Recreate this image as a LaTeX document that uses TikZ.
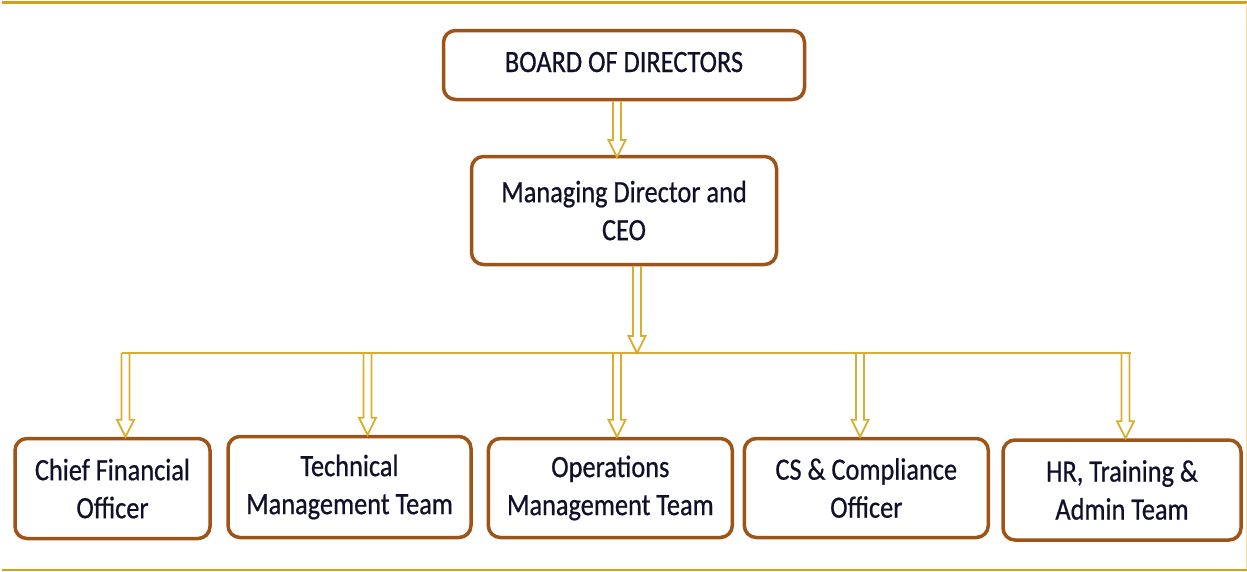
\documentclass[tikz,border=0pt]{standalone}
\usepackage{fontspec}
\setmainfont{Carlito}[FakeStretch=0.85,FakeBold=0.6]
\usetikzlibrary{calc}
\definecolor{boxbrown}{HTML}{9E5417}
\definecolor{arrowgold}{HTML}{D9AE2E}
\definecolor{rulegold}{HTML}{D4A017}
\definecolor{txt}{HTML}{10102A}
\tikzset{
  orgbox/.style={draw=boxbrown, line width=3.5pt, rounded corners=12pt, fill=white,
    align=center, text=txt, inner sep=0pt, font=\fontsize{31}{38}\selectfont},
  hollowarrow/.style={draw=arrowgold, line width=1.8pt, line join=miter,
    to path={let \p1=(\tikztostart), \p2=(\tikztotarget) in
      (\x1-4pt,\y1) -- (\x1-4pt,\y2+17pt) -- (\x1-8.5pt,\y2+17pt) -- (\x1,\y2)
      -- (\x1+8.5pt,\y2+17pt) -- (\x1+4pt,\y2+17pt) -- (\x1+4pt,\y1)}},
  busline/.style={draw=arrowgold, line width=2pt}
}
\begin{document}
\begin{tikzpicture}[x=1pt,y=-1pt]
\useasboundingbox (0,0) rectangle (1247,571);
% frame rules
\draw[rulegold, line width=3pt] (2,2) -- (1247,2);
\draw[rulegold, line width=2pt] (2,569.5) -- (1247,569.5);
\draw[rulegold!35, line width=1pt] (1246,3) -- (1246,569);

% boxes
\node[orgbox, minimum width=361pt, minimum height=69pt, text height=22pt, text depth=8pt] (board) at (624,65) {BOARD OF DIRECTORS};
\node[orgbox, minimum width=305pt, minimum height=108pt] (ceo) at (624,210.5) {Managing Director and\\CEO};
\node[orgbox, minimum width=195pt, minimum height=100pt] (cfo) at (112.5,488.5) {Chief Financial\\Officer};
\node[orgbox, minimum width=243pt, minimum height=101pt] (tech) at (349.5,487) {Technical\\Management Team};
\node[orgbox, minimum width=244pt, minimum height=99pt] (ops) at (610.3,488) {Operations\\Management Team};
\node[orgbox, minimum width=244pt, minimum height=99pt] (cs) at (866.3,488) {CS \& Compliance\\Officer};
\node[orgbox, minimum width=238pt, minimum height=100pt] (hr) at (1122,490) {HR, Training \&\\Admin Team};

% coordinates
\coordinate (ceotop) at (617,157);
\coordinate (busmid) at (637,353);
\coordinate (busL) at (122,353);
\coordinate (busR) at (1131,353);
\coordinate (t1) at (125.5,353);
\coordinate (t2) at (367.5,353);
\coordinate (t3) at (617,353);
\coordinate (t4) at (860,353);
\coordinate (t5) at (1125.5,353);

% connectors
\draw[hollowarrow] (board.south -| ceotop) to (ceotop);
\draw[busline] (busL) -- (busR);
\draw[hollowarrow] (ceo.south -| busmid) to (busmid);
\draw[hollowarrow] (t1) to (t1 |- cfo.north);
\draw[hollowarrow] (t2) to (t2 |- tech.north);
\draw[hollowarrow] (t3) to (t3 |- ops.north);
\draw[hollowarrow] (t4) to (t4 |- cs.north);
\draw[hollowarrow] (t5) to (t5 |- hr.north);
\end{tikzpicture}
\end{document}
